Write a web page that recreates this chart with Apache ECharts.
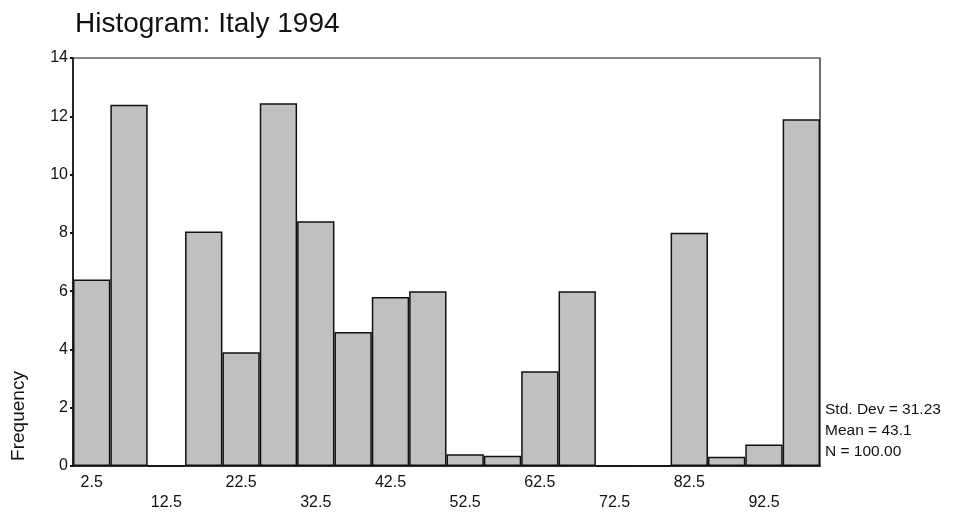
<!DOCTYPE html>
<html>
<head>
<meta charset="utf-8">
<script src="https://cdn.jsdelivr.net/npm/echarts@6/dist/echarts.min.js"></script>
<style>
  html, body { margin: 0; padding: 0; background: #fff; }
  #main { width: 959px; height: 516px; }
</style>
</head>
<body>
<div id="main"></div>
<script>
// bin midpoints (width 5)
var categories = ['2.5', '7.5', '12.5', '17.5', '22.5', '27.5', '32.5', '37.5', '42.5', '47.5',
                  '52.5', '57.5', '62.5', '67.5', '72.5', '77.5', '82.5', '87.5', '92.5', '97.5'];
var frequency = [6.4, 12.4, 0, 8.05, 3.9, 12.45, 8.4, 4.6, 5.8, 6.0,
                 0.4, 0.35, 3.25, 6.0, 0, 0, 8.0, 0.32, 0.74, 11.9];
var statsLines = ['Std. Dev = 31.23', 'Mean = 43.1', 'N = 100.00'];

var font = 'Liberation Sans, Arial, sans-serif';

var chart = echarts.init(document.getElementById('main'));
var option = {
    backgroundColor: '#fff',
    animation: false,
    title: {
        text: 'Histogram: Italy 1994',
        left: 70,
        top: 5,
        textStyle: { fontFamily: font, fontSize: 28, fontWeight: 'normal', color: '#111' }
    },
    grid: {
        left: 73, right: 139, top: 58, bottom: 50,
        show: true, borderColor: '#111', borderWidth: 1.2
    },
    xAxis: {
        type: 'category',
        data: categories,
        boundaryGap: true,
        axisLine: { lineStyle: { color: '#111', width: 1.5 } },
        axisTick: { show: false },
        axisLabel: {
            interval: 1,
            margin: 7,
            color: '#111',
            fontFamily: font,
            fontSize: 16,
            lineHeight: 20,
            formatter: function (v, i) {
                return i % 4 === 2 ? '\n' + v : v;
            }
        }
    },
    yAxis: {
        type: 'value',
        min: 0, max: 14, interval: 2,
        splitLine: { show: false },
        axisLine: { show: true, lineStyle: { color: '#111', width: 1.5 } },
        axisTick: { show: true, length: 3, lineStyle: { color: '#111', width: 2 } },
        axisLabel: { color: '#111', fontFamily: font, fontSize: 16, margin: 5 }
    },
    series: [{
        type: 'bar',
        data: frequency,
        barCategoryGap: 0,
        itemStyle: { color: '#c0c0c0', borderColor: '#111', borderWidth: 1.5 }
    }],
    graphic: [
        {
            type: 'text',
            x: 19, y: 416,
            rotation: Math.PI / 2,
            style: {
                text: 'Frequency', fontFamily: font, fontSize: 19, fill: '#111',
                textAlign: 'center', textVerticalAlign: 'middle'
            }
        },
        {
            type: 'text',
            left: 825, top: 399,
            style: {
                text: statsLines.join('\n'), fontFamily: font, fontSize: 15.5,
                lineHeight: 21, fill: '#111'
            }
        }
    ]
};
chart.setOption(option);
</script>
</body>
</html>
